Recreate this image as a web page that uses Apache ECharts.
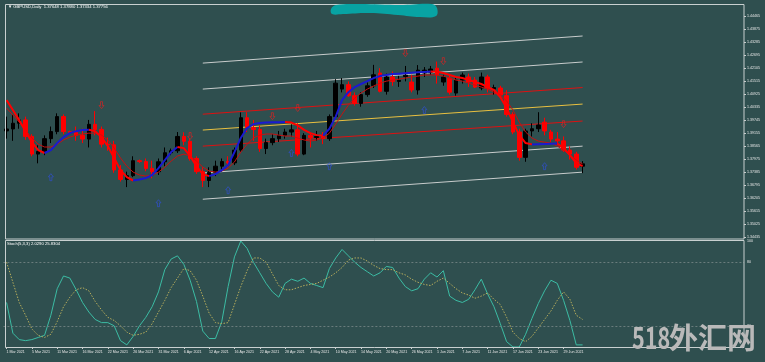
<!DOCTYPE html>
<html><head><meta charset="utf-8">
<script src="https://cdn.jsdelivr.net/npm/echarts@6/dist/echarts.min.js"></script>
<style>html,body{margin:0;padding:0;background:#2f4f4f;}#c{width:765px;height:362px;}</style>
</head><body><div id="c"></div>
<script>
// ---- categories (daily bars, incl. two Sunday bars) ----
const marchDays = [1,2,3,4,5,8,9,10,11,12,14,15,16,17,18,19,22,23,24,25,26,28,29,30,31];
const aprilDays = [1,2,5,6,7,8,9,12,13,14,15,16,19,20,21,22,23,26,27,28,29,30];
const mayDays   = [3,4,5,6,7,10,11,12,13,14,17,18,19,20,21,24,25,26,27,28,31];
const juneDays  = [1,2,3,4,7,8,9,10,11,14,15,16,17,18,21,22,23,24,25,28,29,30];
const julyDays  = [1,2];
const emptyFutureBars = 25;

// ---- candles ----
const opens = [1.3925,1.3934,1.3960,1.3975,1.3900,1.3820,1.3832,1.3890,1.3922,1.3990,1.3922,1.3918,1.3905,1.3888,1.3955,1.3932,1.3865,1.3862,1.3748,1.3705,1.3722,1.3790,1.3786,1.3755,1.3740,1.3785,1.3826,1.3835,1.3900,1.3878,1.3800,1.3740,1.3700,1.3737,1.3765,1.3786,1.3780,1.3838,1.3985,1.3940,1.3932,1.3845,1.3872,1.3890,1.3905,1.3920,1.3930,1.3820,1.3905,1.3895,1.3900,1.3890,1.3990,1.4115,1.4135,1.4085,1.4050,1.4090,1.4130,1.4188,1.4105,1.4170,1.4150,1.4172,1.4147,1.4111,1.4188,1.4192,1.4210,1.4147,1.4165,1.4097,1.4156,1.4170,1.4156,1.4120,1.4170,1.4115,1.4120,1.4085,1.4000,1.3920,1.3805,1.3925,1.3935,1.3965,1.3920,1.3888,1.3880,1.3838,1.3820,1.37648];
const closes = [1.3934,1.3960,1.3975,1.3900,1.3820,1.3832,1.3890,1.3922,1.3990,1.3922,1.3918,1.3905,1.3888,1.3955,1.3932,1.3865,1.3862,1.3748,1.3705,1.3722,1.3790,1.3786,1.3755,1.3740,1.3785,1.3826,1.3835,1.3900,1.3878,1.3800,1.3740,1.3700,1.3737,1.3765,1.3786,1.3780,1.3838,1.3985,1.3940,1.3932,1.3845,1.3872,1.3890,1.3905,1.3920,1.3930,1.3820,1.3905,1.3895,1.3900,1.3890,1.3990,1.4142,1.4135,1.4085,1.4050,1.4090,1.4130,1.4180,1.4105,1.4170,1.4150,1.4155,1.4178,1.4111,1.4201,1.4201,1.4206,1.4179,1.4170,1.4101,1.4156,1.4179,1.4147,1.4124,1.4170,1.4120,1.4122,1.4088,1.4000,1.3920,1.3805,1.3925,1.3935,1.3952,1.3925,1.3888,1.3880,1.3838,1.3820,1.3760,1.37756];
const lows   = [1.3890,1.3880,1.3935,1.3885,1.3810,1.3778,1.3815,1.3870,1.3910,1.3910,1.3912,1.3880,1.3870,1.3850,1.3905,1.3850,1.3835,1.3735,1.3695,1.3670,1.3715,1.3780,1.3742,1.3710,1.3725,1.3765,1.3815,1.3825,1.3860,1.3790,1.3730,1.3670,1.3670,1.3720,1.3740,1.3760,1.3770,1.3830,1.3920,1.3880,1.3830,1.3820,1.3860,1.3875,1.3890,1.3900,1.3810,1.3815,1.3850,1.3880,1.3865,1.3880,1.3985,1.4100,1.4080,1.4040,1.4035,1.4080,1.4120,1.4100,1.4090,1.4130,1.4125,1.4150,1.4100,1.4090,1.4170,1.4180,1.4140,1.4130,1.4090,1.4085,1.4140,1.4125,1.4120,1.4110,1.4100,1.4090,1.4075,1.3990,1.3910,1.3790,1.3785,1.3900,1.3920,1.3905,1.3875,1.3860,1.3830,1.3795,1.3750,1.37334];
const highs  = [1.3990,1.4000,1.4005,1.3990,1.3910,1.3860,1.3905,1.3945,1.4005,1.4000,1.3926,1.3945,1.3935,1.3975,1.4015,1.3945,1.3895,1.3880,1.3770,1.3740,1.3810,1.3795,1.3800,1.3790,1.3800,1.3850,1.3845,1.3920,1.3919,1.3890,1.3810,1.3760,1.3760,1.3790,1.3800,1.3810,1.3850,1.4009,1.4010,1.3975,1.3950,1.3890,1.3910,1.3925,1.3935,1.3955,1.3960,1.3915,1.3915,1.3925,1.3920,1.4000,1.4160,1.4165,1.4150,1.4100,1.4100,1.4145,1.4225,1.4210,1.4185,1.4195,1.4175,1.4220,1.4180,1.4224,1.4215,1.4220,1.4240,1.4180,1.4180,1.4170,1.4190,1.4185,1.4170,1.4190,1.4180,1.4135,1.4130,1.4110,1.4010,1.3935,1.3935,1.3960,1.4010,1.3985,1.3930,1.3920,1.3900,1.3855,1.3830,1.37880];

// ---- moving averages ----
const hullLine = [1.4065,1.4020,1.3974,1.3924,1.3874,1.3838,1.3825,1.3838,1.3870,1.3897,1.3915,1.3924,1.3929,1.3930,1.3924,1.3897,1.3856,1.3802,1.3747,1.3715,1.3700,1.3705,1.3711,1.3725,1.3756,1.3793,1.3829,1.3852,1.3847,1.3811,1.3765,1.3729,1.3720,1.3729,1.3747,1.3770,1.3829,1.3893,1.3938,1.3956,1.3961,1.3963,1.3964,1.3965,1.3966,1.3963,1.3950,1.3930,1.3915,1.3906,1.3904,1.3935,1.3990,1.4065,1.4101,1.4124,1.4138,1.4151,1.4165,1.4174,1.4179,1.4183,1.4185,1.4187,1.4189,1.4191,1.4193,1.4195,1.4194,1.4188,1.4179,1.4170,1.4165,1.4156,1.4147,1.4138,1.4124,1.4111,1.4079,1.4029,1.3965,1.3906,1.3870,1.3864,1.3865,1.3866,1.3867,1.3868,1.3847,1.3815,1.3779,1.3765];
const slowLine = [1.4029,1.3997,1.3965,1.3929,1.3893,1.3865,1.3852,1.3852,1.3865,1.3884,1.3897,1.3906,1.3911,1.3915,1.3915,1.3906,1.3884,1.3847,1.3802,1.3765,1.3738,1.3725,1.3720,1.3725,1.3738,1.3761,1.3788,1.3811,1.3820,1.3811,1.3788,1.3761,1.3743,1.3738,1.3743,1.3756,1.3784,1.3829,1.3865,1.3893,1.3906,1.3911,1.3911,1.3906,1.3902,1.3902,1.3893,1.3884,1.3879,1.3884,1.3893,1.3915,1.3956,1.4001,1.4042,1.4074,1.4097,1.4115,1.4129,1.4142,1.4151,1.4156,1.4160,1.4165,1.4170,1.4174,1.4179,1.4179,1.4179,1.4174,1.4165,1.4156,1.4151,1.4142,1.4133,1.4124,1.4115,1.4101,1.4088,1.4061,1.4020,1.3965,1.3920,1.3893,1.3879,1.3874,1.3870,1.3856,1.3838,1.3815,1.3793,1.3775];

// ---- regression channel (price at first and last bar) ----
const channelFromBar = 31, channelToBar = 91;
const channelStart = [1.4233,1.4115,1.4001,1.3929,1.3856,1.3734,1.3615];
const channelEnd   = [1.4356,1.4238,1.4122,1.4047,1.3970,1.3856,1.3738];

// ---- signal arrows ----
const sellArrowBars   = [15,29,42,46,63,69,88];
const sellArrowPrices = [1.4042,1.3902,1.3992,1.4029,1.4278,1.4242,1.3956];
const buyArrowBars    = [7,24,35,45,51,66,85];
const buyArrowPrices  = [1.3715,1.3597,1.3656,1.3825,1.3765,1.4020,1.3765];

// ---- stochastic (5,3,3) ----
const stochMain = [42,13,7,6,7,9,11,30,55,67,65,54,42,33,26,23,23,20,6,2,10,20,28,38,52,73,83,86,78,63,43,15,8,8,24,57,85,100,93,80,70,60,52,47,60,64,62,65,60,58,56,74,84,92,86,80,75,71,67,70,76,75,65,57,53,55,64,70,66,72,48,44,42,45,54,64,50,38,22,5,0,0,12,27,41,53,63,60,44,25,2,2];
const stochSignal = [80,61,42,30,17,11,9,12,24,38,47,54,56,53,43,35,28,25,20,14,11,12,14,22,33,44,56,65,74,72,63,48,32,23,22,23,40,57,72,84,84,80,69,58,54,54,56,58,59,60,63,66,70,75,82,84,84,81,77,74,73,73,70,68,64,61,59,58,62,65,60,55,51,49,46,48,51,45,40,28,14,8,5,10,18,26,34,44,52,45,30,26];
const stochLevels = [80, 20];

// ---- axes ----
const priceTickStart = 1.34435, priceTickStep = 0.0059, priceTop = 1.45013;
const lastPrice = 1.37756;
const titleText = '\u25BC GBPUSD,Daily  1.37648 1.37880 1.37334 1.37756';
const stochText = 'Stoch(5,3,3) 2.0290 25.8304';

const dates = [].concat(
  marchDays.map(d => d + ' Mar 2021'),
  aprilDays.map(d => d + ' Apr 2021'),
  mayDays.map(d => d + ' May 2021'),
  juneDays.map(d => d + ' Jun 2021'),
  julyDays.map(d => d + ' Jul 2021'));
const nBars = dates.length;
const categories = dates.concat(new Array(emptyFutureBars).fill(''));
const showDate = i => i % 4 === 0 && i <= 88;

const candleData = opens.map((o, i) => [o, closes[i], lows[i], highs[i]]);

// split hull line into rising / falling runs
const hullSeries = [];
let runStart = 0;
const dirOf = i => hullLine[i + 1] >= hullLine[i];
for (let i = 1; i < nBars; i++) {
  if (i === nBars - 1 || dirOf(i) !== dirOf(runStart)) {
    const up = dirOf(runStart);
    const pts = [];
    for (let k = runStart; k <= i; k++) pts.push([k, hullLine[k]]);
    hullSeries.push({type:'line', xAxisIndex:0, yAxisIndex:0, data:pts, symbol:'none', silent:true, z:4,
      lineStyle:{color: up ? '#1a1ad0' : '#ff0000', width:2}});
    runStart = i;
  }
}

const channelColors = ['#c8cccc','#c8cccc','#dd1111','#e8c040','#dd1111','#c8cccc','#c8cccc'];
const channelSeries = channelStart.map((v, k) => ({
  type:'line', xAxisIndex:0, yAxisIndex:0, symbol:'none', silent:true, z:1,
  data:[[channelFromBar, v],[channelToBar, channelEnd[k]]],
  lineStyle:{color:channelColors[k], width:1}
}));

const upArrow = 'path://M5,0 L10,5 L7,5 L7,11 L3,11 L3,5 L0,5 Z';
const downArrow = 'path://M3,0 L7,0 L7,6 L10,6 L5,11 L0,6 L3,6 Z';
const smallFont = {fontFamily:'Liberation Sans', fontSize:3.6, color:'#e8e8e8'};

const chart = echarts.init(document.getElementById('c'), null, {renderer:'canvas'});
chart.setOption({
  animation:false,
  backgroundColor:'#2f4f4f',
  grid:[
    {left:3.4, width:740.6, top:4, height:233, show:false},
    {left:3.4, width:740.6, top:241, height:106, show:false}
  ],
  xAxis:[
    {type:'category', gridIndex:0, data:categories, boundaryGap:true,
     axisLine:{show:false}, axisTick:{show:false}, axisLabel:{show:false}, splitLine:{show:false}},
    {type:'category', gridIndex:1, data:categories, boundaryGap:true,
     axisLine:{show:false},
     axisTick:{show:true, interval:(i)=>showDate(i), alignWithLabel:true, length:2, lineStyle:{color:'#c8cccc', width:1}},
     axisLabel:Object.assign({show:true, interval:(i)=>showDate(i), align:'left', margin:2.5, hideOverlap:false}, smallFont),
     splitLine:{show:false}}
  ],
  yAxis:[
    {type:'value', gridIndex:0, position:'right', min:priceTickStart, max:priceTop, interval:priceTickStep,
     axisLine:{show:false}, axisTick:{show:true, length:2, lineStyle:{color:'#c8cccc'}},
     splitLine:{show:false},
     axisLabel:Object.assign({margin:3, showMaxLabel:false, formatter:v=>v.toFixed(5)}, smallFont)},
    {type:'value', gridIndex:1, position:'right', min:0, max:100, interval:20,
     axisLine:{show:false}, axisTick:{show:false}, splitLine:{show:false},
     axisLabel:Object.assign({margin:3, formatter:v=>(v===100||v===80||v===20)?String(v):''}, smallFont)}
  ],
  series:[
    ...channelSeries,
    {type:'candlestick', xAxisIndex:0, yAxisIndex:0, data:candleData, barWidth:4, z:2, silent:true,
     itemStyle:{color:'#000000', color0:'#ff0000', borderColor:'#000000', borderColor0:'#ff0000', borderWidth:1},
     markLine:{silent:true, symbol:'none', lineStyle:{opacity:0},
       label:{show:true, position:'end', formatter:()=>lastPrice.toFixed(5), backgroundColor:'#ffffff', color:'#000000',
              fontFamily:'Liberation Sans', fontSize:3.6, padding:[0.5,1.5], distance:1},
       data:[{yAxis:lastPrice}]}},
    {type:'line', xAxisIndex:0, yAxisIndex:0, data:slowLine, symbol:'none', silent:true, z:3,
     lineStyle:{color:'#c81010', width:1}},
    ...hullSeries,
    {type:'scatter', xAxisIndex:0, yAxisIndex:0, symbol:downArrow, symbolSize:[5,7], silent:true, z:5,
     data:sellArrowBars.map((b,i)=>[b, sellArrowPrices[i]]),
     itemStyle:{color:'rgba(0,0,0,0)', borderColor:'#e02020', borderWidth:0.8}},
    {type:'scatter', xAxisIndex:0, yAxisIndex:0, symbol:upArrow, symbolSize:[5,7], silent:true, z:5,
     data:buyArrowBars.map((b,i)=>[b, buyArrowPrices[i]]),
     itemStyle:{color:'rgba(0,0,0,0)', borderColor:'#3050d8', borderWidth:0.8}},
    {type:'line', xAxisIndex:1, yAxisIndex:1, data:stochMain, symbol:'none', silent:true, z:3,
     lineStyle:{color:'#3cbca4', width:1},
     markLine:{silent:true, symbol:'none', label:{show:false},
       lineStyle:{type:[2,2], color:'#6a7c7c', width:1},
       data:stochLevels.map(v=>({yAxis:v}))}},
    {type:'line', xAxisIndex:1, yAxisIndex:1, data:stochSignal, symbol:'none', silent:true, z:3,
     lineStyle:{color:'#b8ae5c', width:1, type:[1.5,1.5]}}
  ],
  graphic:[
    {type:'rect', shape:{x:5.5, y:4.5, width:738.5, height:234.5}, style:{fill:'none', stroke:'#c8d0d0', lineWidth:1}, silent:true, z:10},
    {type:'rect', shape:{x:5.5, y:240.5, width:738.5, height:107}, style:{fill:'none', stroke:'#c8d0d0', lineWidth:1}, silent:true, z:10},
    {type:'text', left:8, top:5, style:{text:titleText, fill:'#ffffff', font:'4.2px "Liberation Sans"'}, silent:true, z:10},
    {type:'text', left:7, top:242, style:{text:stochText, fill:'#ffffff', font:'4.2px "Liberation Sans"'}, silent:true, z:10},
    {type:'polygon', shape:{smooth:0.4, points:[[331,9],[336,5],[360,4],[400,5],[432,4],[437,8],[436,16],[420,17],[398,15],[370,13],[343,14],[332,14]]},
     style:{fill:'#08a3a3'}, silent:true, z:11},
    {type:'text', x:632, y:338, scaleX:0.72, originX:0, originY:0, style:{text:'518', fill:'#b9b9b9', font:'bold 30px "Noto Sans CJK SC"', verticalAlign:'middle', align:'left'}, silent:true, z:12},
    {type:'text', x:669, y:338, style:{text:'外汇网', fill:'#b9b9b9', font:'bold 29px "Noto Sans CJK SC"', verticalAlign:'middle', align:'left'}, silent:true, z:12}
  ]
});
</script>
</body></html>
